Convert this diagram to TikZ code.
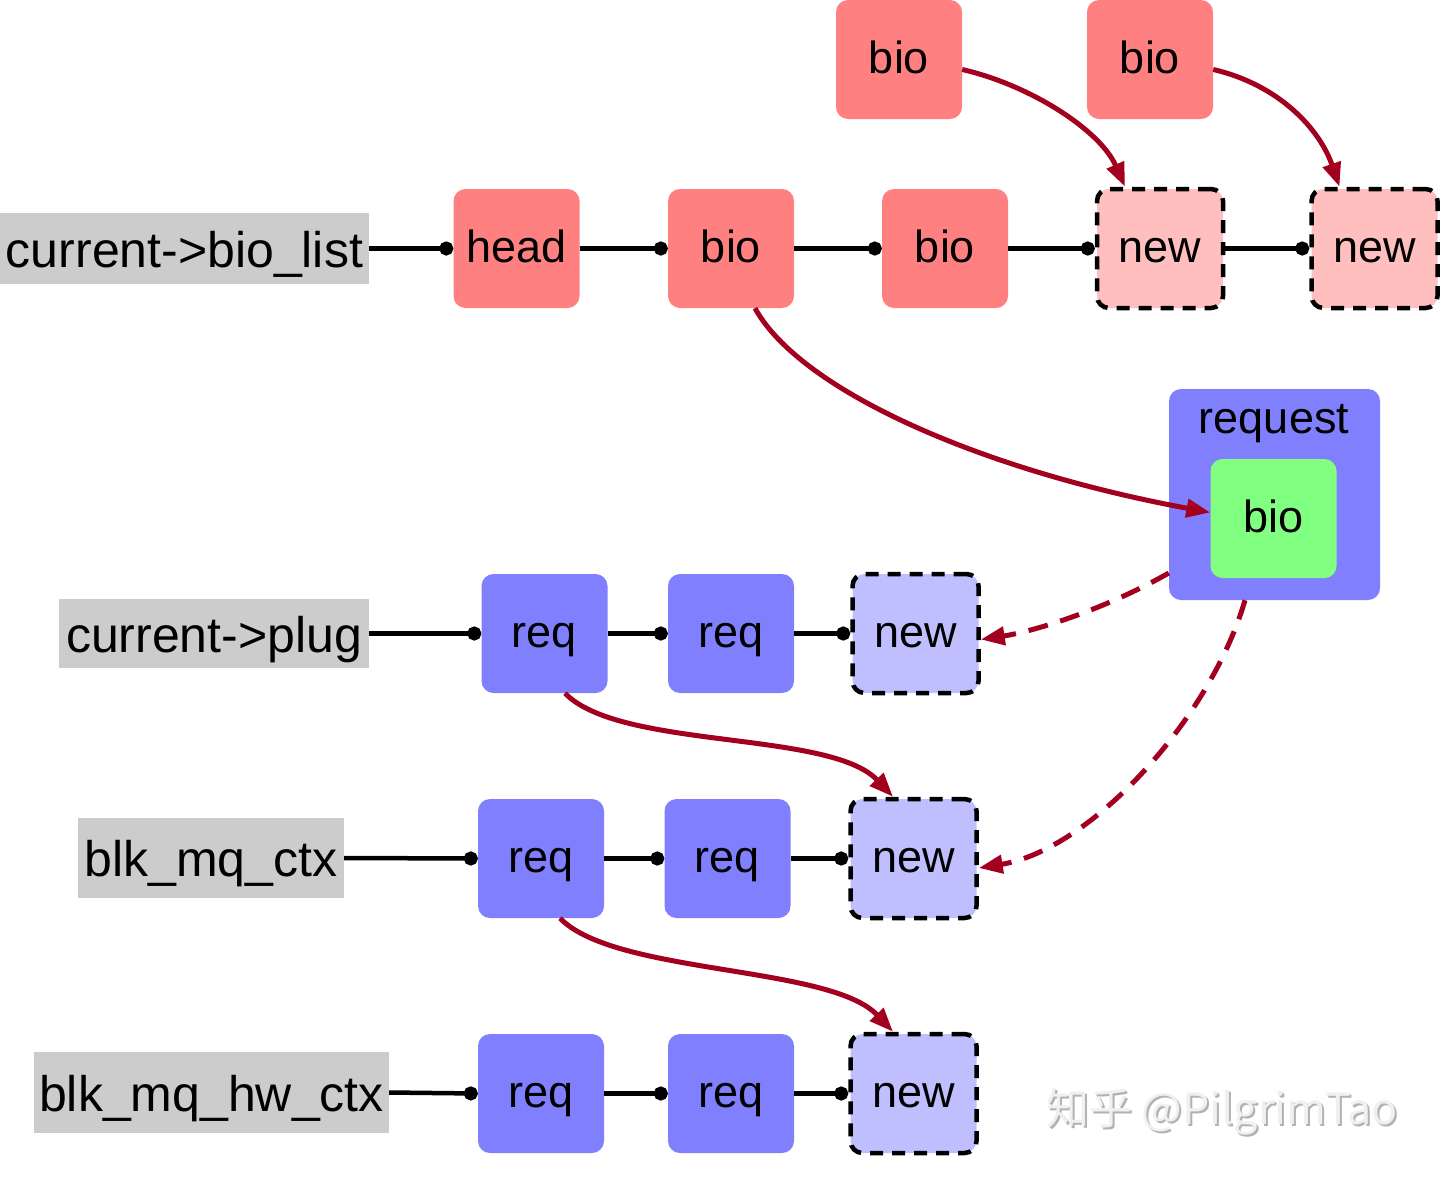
\documentclass[tikz,border=0pt]{standalone}
\usepackage{fontspec}
\setmainfont{Liberation Sans}
\newfontfamily\cjk{Noto Sans CJK SC}
\usetikzlibrary{arrows.meta}
\definecolor{boxred}{RGB}{255,128,128}
\definecolor{boxredl}{RGB}{255,191,191}
\definecolor{boxblue}{RGB}{128,128,255}
\definecolor{boxbluel}{RGB}{191,191,255}
\definecolor{boxgreen}{RGB}{128,255,128}
\definecolor{labgray}{RGB}{204,204,204}
\definecolor{arrred}{RGB}{163,0,32}
\tikzset{
  box/.style={rounded corners=12pt, minimum width=126pt, minimum height=119pt, inner sep=0pt,
    font=\fontsize{45}{54}\selectfont, text height=33pt, text depth=6pt},
  redbox/.style={box, fill=boxred},
  newred/.style={box, fill=boxredl, draw=black, line width=4.5pt, dash pattern=on 13pt off 9pt},
  bluebox/.style={box, fill=boxblue},
  newblue/.style={box, fill=boxbluel, draw=black, line width=4.5pt, dash pattern=on 13pt off 9pt},
  lab/.style={fill=labgray, inner sep=0pt, font=\fontsize{50}{60}\selectfont, text height=37pt, text depth=0pt},
  link/.style={line width=4.5pt, -{Circle[length=14pt]}},
  redarr/.style={draw=arrred, line width=5pt, -{Triangle[length=24pt,width=18pt]}},
  reddash/.style={redarr, dash pattern=on 20pt off 13pt},
}
\begin{document}
\begin{tikzpicture}[x=1pt,y=-1pt]
\useasboundingbox (0,0) rectangle (1440,1178);

% row 1
\node[redbox] (bioA) at (899,59.5) {bio};
\node[redbox] (bioB) at (1150,59.5) {bio};
\node[lab, minimum width=369pt, minimum height=71pt] (lab1) at (184.5,248.5) {current->bio\_list};
\node[redbox] (head) at (516.5,248.5) {head};
\node[redbox] (bio1) at (731,248.5) {bio};
\node[redbox] (bio2) at (945,248.5) {bio};
\node[newred] (new1) at (1160,248.5) {new};
\node[newred] (new2) at (1374.5,248.5) {new};

% request
\node[box, fill=boxblue, minimum width=211pt, minimum height=211pt] (request) at (1274.5,494.5) {};
\node[font=\fontsize{45}{54}\selectfont, inner sep=0pt, text height=33pt, text depth=6pt] (reqlabel) at (1274,420) {request};
\node[box, fill=boxgreen] (green) at (1273.5,518.5) {bio};

% row 2
\node[lab, minimum width=310pt, minimum height=69pt] (lab2) at (214,633.5) {current->plug};
\node[bluebox] (r21) at (544.5,633.5) {req};
\node[bluebox] (r22) at (731,633.5) {req};
\node[newblue] (n23) at (915.5,633.5) {new};

% row 3
\node[lab, minimum width=266pt, minimum height=80pt] (lab3) at (211,858) {blk\_mq\_ctx};
\node[bluebox] (r31) at (541,858.5) {req};
\node[bluebox] (r32) at (727.5,858.5) {req};
\node[newblue] (n33) at (913.5,858.5) {new};

% row 4
\node[lab, minimum width=355pt, minimum height=81pt] (lab4) at (211.5,1092.5) {blk\_mq\_hw\_ctx};
\node[bluebox] (r41) at (541,1093.5) {req};
\node[bluebox] (r42) at (731,1093.5) {req};
\node[newblue] (n43) at (913.5,1093.5) {new};

% links
\draw[link] (lab1.east) -- (head.west);
\draw[link] (head.east) -- (bio1.west);
\draw[link] (bio1.east) -- (bio2.west);
\draw[link] (bio2.east) -- (new1.west);
\draw[link] (new1.east) -- (new2.west);
\draw[link] (lab2.east) -- (r21.west);
\draw[link] (r21.east) -- (r22.west);
\draw[link] (r22.east) -- (n23.west);
\draw[link] (lab3.east) -- (r31.west);
\draw[link] (r31.east) -- (r32.west);
\draw[link] (r32.east) -- (n33.west);
\draw[link] (lab4.east) -- (r41.west);
\draw[link] (r41.east) -- (r42.west);
\draw[link] (r42.east) -- (n43.west);

% red arrows
\draw[redarr] ([yshift=-10pt]bioA.east) .. controls (1030,85) and (1100,130) .. ([xshift=-35pt]new1.north);
\draw[redarr] ([yshift=-10pt]bioB.east) .. controls (1280,85) and (1320,130) .. ([xshift=-35pt]new2.north);
\draw[redarr] ([xshift=24pt]bio1.south) .. controls (800,390) and (980,470) .. ([yshift=6pt]green.west);
\draw[reddash] ([yshift=-78.5pt]request.west) .. controls (1100,612) and (1030,632) .. ([yshift=-6pt]n23.east);
\draw[reddash] ([xshift=-29.5pt]request.south) .. controls (1210,720) and (1090,850) .. ([yshift=-9.5pt]n33.east);
\draw[redarr] ([xshift=20.5pt]r21.south) .. controls (620,750) and (830,730) .. ([xshift=-20.5pt]n33.north);
\draw[redarr] ([xshift=19pt]r31.south) .. controls (615,975) and (830,965) .. ([xshift=-20.5pt]n43.north);

% watermark
\node[text=gray!60, font=\cjk\fontsize{43}{50}\selectfont, inner sep=0pt] (wmshadow) at (1224,1114) {知乎 @PilgrimTao};
\node[text=gray!12, font=\cjk\fontsize{43}{50}\selectfont, inner sep=0pt] (wm) at (1222,1112) {知乎 @PilgrimTao};
\end{tikzpicture}
\end{document}
